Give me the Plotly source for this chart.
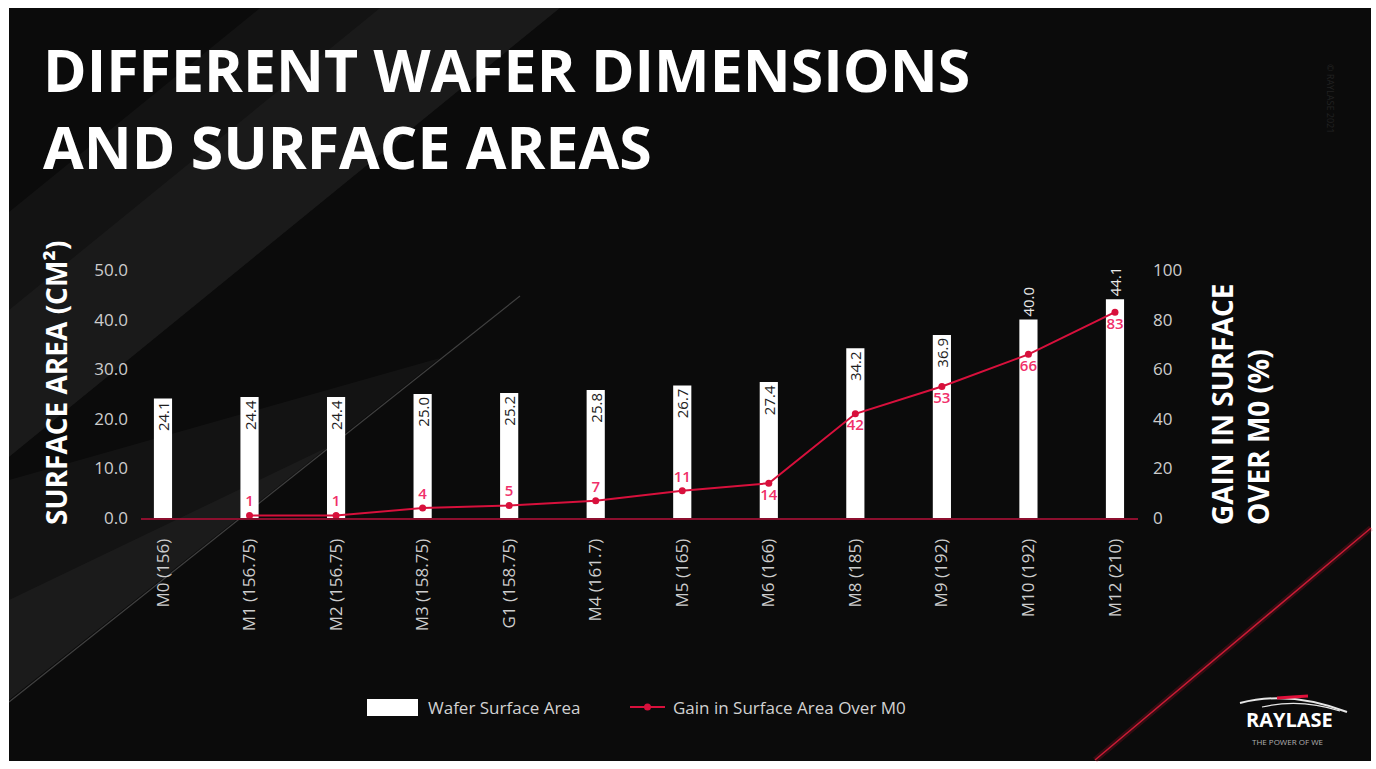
import plotly.graph_objects as go

# Wafer formats (edge length in mm) and their surface areas
categories = ["M0 (156)", "M1 (156.75)", "M2 (156.75)", "M3 (158.75)", "G1 (158.75)",
              "M4 (161.7)", "M5 (165)", "M6 (166)", "M8 (185)", "M9 (192)",
              "M10 (192)", "M12 (210)"]
surface_area = [24.1, 24.4, 24.4, 25.0, 25.2, 25.8, 26.7, 27.4, 34.2, 36.9, 40.0, 44.1]
gain_over_m0 = [None, 1, 1, 4, 5, 7, 11, 14, 42, 53, 66, 83]
left_ticks = [0, 10, 20, 30, 40, 50]
right_ticks = [0, 20, 40, 60, 80, 100]
series_names = ["Wafer Surface Area", "Gain in Surface Area Over M0"]

W, H = 1376, 769
L, R, T, B = 141, 238, 270, 251
PW, PH = W - L - R, H - T - B

FONT = "Open Sans"
RED = "#d8103c"
LABEL_RED = "#f0306a"
TICK_GREY = "#cdcdcd"


def fx(p):
    return (p - L) / PW


def fy(p):
    return (H - B - p) / PH


bar_pos = ["inside"] * 10 + ["outside"] * 2
line_pos = ["top center"] * 7 + ["bottom center"] * 5

fig = go.Figure()
fig.add_trace(go.Bar(
    x=categories, y=surface_area, name=series_names[0],
    marker=dict(color="#ffffff", line=dict(width=0)),
    width=0.21,
    text=[f"{v:.1f}" for v in surface_area],
    textposition=bar_pos, textangle=-90, insidetextanchor="end",
    insidetextfont=dict(family=FONT, size=15, color="#1e1e1e"),
    outsidetextfont=dict(family=FONT, size=15, color="#e8e8e8"),
    constraintext="none", cliponaxis=False,
))
fig.add_trace(go.Scatter(
    x=categories, y=gain_over_m0, name=series_names[1],
    yaxis="y2", mode="lines+markers+text",
    line=dict(color=RED, width=2), marker=dict(color=RED, size=7),
    text=["" if g is None else str(g) for g in gain_over_m0],
    textposition=line_pos,
    textfont=dict(family=FONT, size=15, color=LABEL_RED, weight=600),
    cliponaxis=False, connectgaps=False,
))

shapes = [
    # slide background
    dict(type="rect", xref="paper", yref="paper", layer="below",
         x0=fx(9), x1=fx(1371), y0=fy(761), y1=fy(8),
         fillcolor="#0b0b0b", line=dict(width=0)),
    # lighter diagonal band in the upper left
    dict(type="path", xref="paper", yref="paper", layer="below",
         path=f"M {fx(260)} {fy(8)} L {fx(560)} {fy(8)} L {fx(9)} {fy(457)} L {fx(9)} {fy(212)} Z",
         fillcolor="rgba(255,255,255,0.035)", line=dict(width=0)),
    dict(type="path", xref="paper", yref="paper", layer="below",
         path=f"M {fx(380)} {fy(8)} L {fx(560)} {fy(8)} L {fx(9)} {fy(457)} L {fx(9)} {fy(310)} Z",
         fillcolor="rgba(255,255,255,0.03)", line=dict(width=0)),
    # soft lighter wedge near the lower left
    dict(type="path", xref="paper", yref="paper", layer="below",
         path=f"M {fx(9)} {fy(480)} L {fx(9)} {fy(700)} L {fx(440)} {fy(358)} Z",
         fillcolor="rgba(255,255,255,0.035)", line=dict(width=0)),
    dict(type="path", xref="paper", yref="paper", layer="below",
         path=f"M {fx(9)} {fy(600)} L {fx(9)} {fy(700)} L {fx(330)} {fy(446)} Z",
         fillcolor="rgba(255,255,255,0.035)", line=dict(width=0)),
    # thin bright streak
    dict(type="line", xref="paper", yref="paper", layer="below",
         x0=fx(9), y0=fy(702), x1=fx(520), y1=fy(296),
         line=dict(color="rgba(190,190,190,0.3)", width=1.2)),
    # red streak bottom right
    dict(type="line", xref="paper", yref="paper", layer="below",
         x0=fx(1095), y0=fy(760), x1=fx(1371), y1=fy(528),
         line=dict(color="rgba(220,20,50,0.2)", width=6)),
    dict(type="line", xref="paper", yref="paper", layer="below",
         x0=fx(1095), y0=fy(760), x1=fx(1371), y1=fy(528),
         line=dict(color="rgba(230,30,60,0.85)", width=1.5)),
    # logo swooshes
    dict(type="path", xref="paper", yref="paper",
         path=f"M {fx(1240)} {fy(703)} Q {fx(1290)} {fy(690)} {fx(1347)} {fy(712)}",
         line=dict(color="#e6e6e6", width=2)),
    dict(type="path", xref="paper", yref="paper",
         path=f"M {fx(1262)} {fy(707)} Q {fx(1300)} {fy(698)} {fx(1340)} {fy(711)}",
         line=dict(color="#e6e6e6", width=1.2)),
    dict(type="path", xref="paper", yref="paper",
         path=f"M {fx(1277)} {fy(698)} L {fx(1308)} {fy(696)}",
         line=dict(color="#e0103a", width=3)),
    # legend keys
    dict(type="rect", xref="paper", yref="paper",
         x0=fx(367), x1=fx(418), y0=fy(716), y1=fy(699),
         fillcolor="#ffffff", line=dict(width=0)),
    dict(type="line", xref="paper", yref="paper",
         x0=fx(630), x1=fx(665), y0=fy(707), y1=fy(707),
         line=dict(color=RED, width=2)),
    dict(type="circle", xref="paper", yref="paper",
         x0=fx(644), x1=fx(651), y0=fy(710.5), y1=fy(703.5),
         fillcolor=RED, line=dict(width=0)),
]

annotations = [
    dict(text="DIFFERENT WAFER DIMENSIONS<br>AND SURFACE AREAS",
         xref="paper", yref="paper", x=fx(41), y=fy(27),
         xanchor="left", yanchor="top", align="left", showarrow=False,
         font=dict(family=FONT, size=59, color="#ffffff", weight=700)),
    dict(text="SURFACE AREA (CM²)", xref="paper", yref="paper",
         x=fx(56), y=fy(383), xanchor="center", yanchor="middle",
         textangle=-90, showarrow=False,
         font=dict(family=FONT, size=28, color="#ffffff", weight=700)),
    dict(text="GAIN IN SURFACE<br>OVER M0 (%)", xref="paper", yref="paper",
         x=fx(1240), y=fy(527), xanchor="center", yanchor="bottom",
         textangle=-90, align="left", showarrow=False,
         font=dict(family=FONT, size=28, color="#ffffff", weight=700)),
    dict(text="© RAYLASE 2021", xref="paper", yref="paper",
         x=fx(1331), y=fy(98), xanchor="center", yanchor="middle",
         textangle=90, showarrow=False,
         font=dict(family=FONT, size=9, color="#222222")),
    dict(text="RAYLASE", xref="paper", yref="paper",
         x=fx(1289), y=fy(719), xanchor="center", yanchor="middle",
         showarrow=False,
         font=dict(family=FONT, size=20, color="#ffffff", weight=700)),
    dict(text="THE POWER OF WE", xref="paper", yref="paper",
         x=fx(1287), y=fy(741), xanchor="center", yanchor="middle",
         showarrow=False,
         font=dict(family=FONT, size=8, color="#b0b0b0")),
    # legend labels
    dict(text=series_names[0], xref="paper", yref="paper",
         x=fx(426), y=fy(707), xanchor="left", yanchor="middle", showarrow=False,
         font=dict(family=FONT, size=17, color="#d2d2d2")),
    dict(text=series_names[1], xref="paper", yref="paper",
         x=fx(671), y=fy(707), xanchor="left", yanchor="middle", showarrow=False,
         font=dict(family=FONT, size=17, color="#d2d2d2")),
]

fig.update_layout(
    width=W, height=H,
    margin=dict(l=L, r=R, t=T, b=B),
    paper_bgcolor="#ffffff", plot_bgcolor="rgba(0,0,0,0)",
    showlegend=False,
    xaxis=dict(type="category", range=[-0.254, 11.266],
               showline=True, linecolor="#8c0f2e", linewidth=2,
               showgrid=False, zeroline=False, ticks="",
               tickangle=-90, ticklabelstandoff=12,
               tickfont=dict(family=FONT, size=17, color=TICK_GREY)),
    yaxis=dict(range=[0, 50], tickvals=left_ticks, tickformat=".1f",
               showgrid=False, zeroline=False, showline=False, ticks="",
               ticklabelstandoff=12,
               tickfont=dict(family=FONT, size=17, color=TICK_GREY)),
    yaxis2=dict(range=[0, 100], tickvals=right_ticks, overlaying="y", side="right",
                showgrid=False, zeroline=False, showline=False, ticks="",
                ticklabelstandoff=14,
                tickfont=dict(family=FONT, size=17, color=TICK_GREY)),
    shapes=shapes, annotations=annotations,
    bargap=0.5,
)

fig.write_html("out.html")
